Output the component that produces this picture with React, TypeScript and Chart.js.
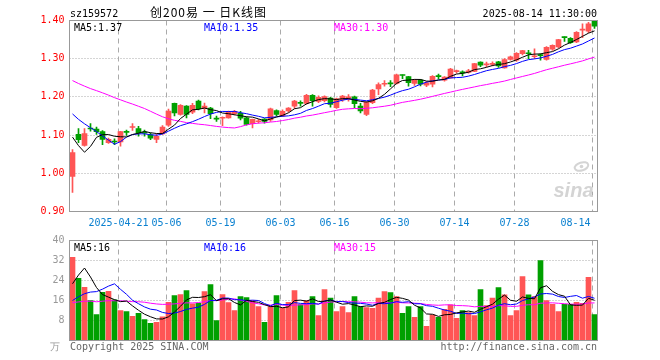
import React, { useEffect, useRef } from 'react';
import { Chart, registerables } from 'chart.js';

Chart.register(...registerables);

// ---------- data ----------
const dates = [
  '2025-04-09','2025-04-10','2025-04-11','2025-04-14','2025-04-15','2025-04-16','2025-04-17','2025-04-18',
  '2025-04-21','2025-04-22','2025-04-23','2025-04-24','2025-04-25','2025-04-28','2025-04-29','2025-04-30',
  '2025-05-06','2025-05-07','2025-05-08','2025-05-09','2025-05-12','2025-05-13','2025-05-14','2025-05-15','2025-05-16',
  '2025-05-19','2025-05-20','2025-05-21','2025-05-22','2025-05-23','2025-05-26','2025-05-27','2025-05-28','2025-05-29','2025-05-30',
  '2025-06-03','2025-06-04','2025-06-05','2025-06-06','2025-06-09','2025-06-10','2025-06-11','2025-06-12','2025-06-13',
  '2025-06-16','2025-06-17','2025-06-18','2025-06-19','2025-06-20','2025-06-23','2025-06-24','2025-06-25','2025-06-26','2025-06-27',
  '2025-06-30','2025-07-01','2025-07-02','2025-07-03','2025-07-04','2025-07-07','2025-07-08','2025-07-09','2025-07-10','2025-07-11',
  '2025-07-14','2025-07-15','2025-07-16','2025-07-17','2025-07-18','2025-07-21','2025-07-22','2025-07-23','2025-07-24','2025-07-25',
  '2025-07-28','2025-07-29','2025-07-30','2025-07-31','2025-08-01','2025-08-04','2025-08-05','2025-08-06','2025-08-07','2025-08-08',
  '2025-08-11','2025-08-12','2025-08-13','2025-08-14',
];

const opens = [
  0.992, 1.102, 1.073, 1.118, 1.116, 1.109, 1.080, 1.083, 1.082, 1.108,
  1.120, 1.117, 1.107, 1.101, 1.089, 1.103, 1.126, 1.183, 1.154, 1.176,
  1.160, 1.189, 1.169, 1.171, 1.144, 1.144, 1.145, 1.156, 1.157, 1.145,
  1.130, 1.135, 1.142, 1.140, 1.164, 1.150, 1.163, 1.176, 1.185, 1.183,
  1.204, 1.188, 1.190, 1.197, 1.172, 1.193, 1.196, 1.200, 1.176, 1.154,
  1.185, 1.221, 1.233, 1.236, 1.235, 1.258, 1.253, 1.235, 1.244, 1.231,
  1.233, 1.255, 1.244, 1.250, 1.266, 1.265, 1.264, 1.267, 1.291, 1.284,
  1.285, 1.292, 1.276, 1.298, 1.296, 1.313, 1.315, 1.305, 1.310, 1.298,
  1.325, 1.331, 1.357, 1.353, 1.344, 1.375, 1.372, 1.400,
];
const highs = [
  1.062, 1.117, 1.117, 1.130, 1.121, 1.112, 1.092, 1.090, 1.110, 1.113,
  1.130, 1.123, 1.113, 1.105, 1.103, 1.125, 1.168, 1.184, 1.180, 1.177,
  1.183, 1.192, 1.184, 1.173, 1.150, 1.148, 1.163, 1.165, 1.162, 1.148,
  1.142, 1.141, 1.143, 1.171, 1.166, 1.166, 1.172, 1.191, 1.190, 1.207,
  1.206, 1.203, 1.203, 1.199, 1.197, 1.204, 1.206, 1.202, 1.183, 1.188,
  1.220, 1.237, 1.243, 1.243, 1.260, 1.258, 1.254, 1.246, 1.246, 1.240,
  1.256, 1.260, 1.253, 1.275, 1.270, 1.268, 1.272, 1.288, 1.292, 1.291,
  1.292, 1.293, 1.300, 1.307, 1.316, 1.322, 1.322, 1.326, 1.313, 1.332,
  1.336, 1.351, 1.357, 1.355, 1.371, 1.391, 1.395, 1.401,
];
const lows = [
  0.950, 1.080, 1.071, 1.110, 1.102, 1.075, 1.078, 1.075, 1.071, 1.099,
  1.112, 1.097, 1.097, 1.088, 1.080, 1.102, 1.123, 1.150, 1.152, 1.145,
  1.156, 1.166, 1.158, 1.143, 1.136, 1.125, 1.144, 1.153, 1.140, 1.126,
  1.119, 1.131, 1.131, 1.136, 1.150, 1.148, 1.160, 1.170, 1.176, 1.181,
  1.176, 1.185, 1.187, 1.173, 1.170, 1.188, 1.189, 1.172, 1.158, 1.151,
  1.182, 1.206, 1.228, 1.227, 1.233, 1.248, 1.228, 1.230, 1.229, 1.227,
  1.226, 1.247, 1.241, 1.249, 1.262, 1.255, 1.262, 1.266, 1.279, 1.279,
  1.281, 1.277, 1.275, 1.296, 1.293, 1.310, 1.300, 1.300, 1.296, 1.296,
  1.322, 1.328, 1.345, 1.340, 1.342, 1.355, 1.368, 1.379,
];
const closes = [
  1.054, 1.088, 1.104, 1.116, 1.109, 1.089, 1.089, 1.082, 1.109, 1.107,
  1.121, 1.106, 1.105, 1.092, 1.097, 1.121, 1.163, 1.158, 1.178, 1.154,
  1.178, 1.169, 1.176, 1.156, 1.142, 1.146, 1.160, 1.162, 1.144, 1.128,
  1.141, 1.137, 1.136, 1.169, 1.154, 1.162, 1.171, 1.189, 1.183, 1.204,
  1.190, 1.199, 1.201, 1.180, 1.195, 1.202, 1.200, 1.182, 1.163, 1.186,
  1.218, 1.232, 1.235, 1.234, 1.258, 1.256, 1.237, 1.244, 1.233, 1.237,
  1.254, 1.253, 1.252, 1.273, 1.267, 1.263, 1.268, 1.287, 1.283, 1.286,
  1.287, 1.281, 1.298, 1.305, 1.314, 1.321, 1.313, 1.307, 1.308, 1.330,
  1.335, 1.350, 1.355, 1.342, 1.369, 1.377, 1.391, 1.385,
];
const volumes = [
  33.3, 24.9, 21.3, 16.0, 10.4, 19.3, 19.7, 16.3, 12.0, 11.6,
  9.7, 10.9, 8.4, 6.9, 7.3, 9.5, 15.3, 18.0, 18.4, 20.0,
  14.7, 14.9, 19.6, 22.4, 8.0, 18.4, 15.2, 12.0, 17.6, 17.2,
  16.0, 13.6, 7.3, 13.6, 18.0, 13.0, 15.3, 20.0, 14.4, 16.0,
  17.6, 10.0, 20.4, 17.0, 11.6, 13.6, 11.2, 17.6, 13.6, 13.2,
  12.9, 17.0, 19.6, 19.2, 17.6, 10.9, 13.6, 9.3, 13.6, 5.7,
  10.3, 9.3, 12.5, 14.3, 8.9, 12.0, 11.2, 10.0, 20.4, 14.0,
  17.0, 21.2, 18.3, 10.0, 12.0, 25.6, 18.3, 17.6, 32.0, 16.0,
  14.5, 11.6, 14.5, 14.5, 15.3, 14.9, 25.3, 10.4,
];
// sessions before the visible window (only feed the moving averages)
const priorCloses = [
  1.32, 1.31, 1.31, 1.27, 1.26, 1.27, 1.28, 1.28, 1.28, 1.28,
  1.28, 1.28, 1.31, 1.32, 1.33, 1.32, 1.28, 1.26, 1.25, 1.24,
  1.23, 1.22, 1.22, 1.21, 1.20, 1.20, 1.19, 1.04, 0.99,
];
const priorVolumes = [
  16, 13, 15, 18, 12, 14, 17, 13, 15, 16,
  12, 14, 19, 16, 15, 13, 14, 12, 14, 16,
  10, 9, 9.5, 8.5, 9.5, 7.5, 7.2, 34, 31.5,
];
const tickDates = ['2025-04-21','2025-05-06','2025-05-19','2025-06-03','2025-06-16','2025-06-30','2025-07-14','2025-07-28','2025-08-14'];
const tickLabels = ['2025-04-21','05-06','05-19','06-03','06-16','06-30','07-14','07-28','08-14'];
const priceTicks = [0.9, 1.0, 1.1, 1.2, 1.3, 1.4];
const volumeTicks = [0, 8, 16, 24, 32, 40];
const symbol = 'sz159572';
const title = '创200易 一 日K线图';
const stamp = '2025-08-14 11:30:00';

// ---------- styles ----------
const UP = '#ff5555';
const DOWN = '#00a000';
const MONO = "'DejaVu Sans Mono', monospace";
const CJK = "'Noto Sans CJK SC', sans-serif";
const GRID = '#aaaaaa';
const FRAME = '#999999';

function movingAvg(prior: number[], values: number[], n: number): number[] {
  const all = [...prior, ...values];
  return values.map((_, i) => {
    const end = prior.length + i;
    let s = 0;
    for (let j = end - n + 1; j <= end; j++) s += all[j];
    return s / n;
  });
}

const isUp = (i: number) => closes[i] >= opens[i];

function framePlugin(opts: { hLines: number[]; legend: { text: string; color: string }[]; extra?: (chart: any) => void }) {
  return {
    id: 'frame',
    beforeDatasetsDraw(chart: any) {
      const { ctx, chartArea: a, scales } = chart;
      ctx.save();
      ctx.lineWidth = 1;
      ctx.strokeStyle = GRID;
      ctx.setLineDash([1, 2]);
      opts.hLines.forEach((v) => {
        const y = Math.round(scales.y.getPixelForValue(v) - 0.5) + 0.5;
        ctx.beginPath();
        ctx.moveTo(a.left, y);
        ctx.lineTo(a.right, y);
        ctx.stroke();
      });
      ctx.setLineDash([5, 4]);
      tickDates.forEach((d) => {
        const idx = dates.indexOf(d);
        const x = Math.round(scales.x.getPixelForValue(idx) - 2.5) + 0.5;
        ctx.beginPath();
        ctx.moveTo(x, a.top);
        ctx.lineTo(x, a.bottom);
        ctx.stroke();
      });
      ctx.restore();
    },
    afterDraw(chart: any) {
      const { ctx, chartArea: a } = chart;
      ctx.save();
      ctx.strokeStyle = FRAME;
      ctx.lineWidth = 1;
      ctx.setLineDash([]);
      const l = Math.floor(a.left) + 0.5;
      const r = Math.floor(a.right) + 0.5;
      ctx.strokeRect(l, a.top, r - l, a.bottom - a.top);
      ctx.font = `10px ${MONO}`;
      ctx.textBaseline = 'alphabetic';
      ctx.textAlign = 'left';
      opts.legend.forEach((it, i) => {
        ctx.fillStyle = it.color;
        ctx.fillText(it.text, 74 + i * 130, a.top + 10);
      });
      if (opts.extra) opts.extra(chart);
      ctx.restore();
    },
  };
}

export default function App() {
  const priceRef = useRef<HTMLCanvasElement>(null);
  const volRef = useRef<HTMLCanvasElement>(null);

  useEffect(() => {
    const ma5 = movingAvg(priorCloses, closes, 5);
    const ma10 = movingAvg(priorCloses, closes, 10);
    const ma30 = movingAvg(priorCloses, closes, 30);
    const vma5 = movingAvg(priorVolumes, volumes, 5);
    const vma10 = movingAvg(priorVolumes, volumes, 10);
    const vma30 = movingAvg(priorVolumes, volumes, 30);
    const last = (arr: number[]) => arr[arr.length - 1];
    const colors = dates.map((_, i) => (isUp(i) ? UP : DOWN));

    const lineDs = (data: number[], color: string) => ({
      type: 'line' as const,
      data,
      borderColor: color,
      borderWidth: 1,
      pointRadius: 0,
      tension: 0,
      order: 0,
    });

    const priceChart = new Chart(priceRef.current!, {
      type: 'bar',
      data: {
        labels: dates,
        datasets: [
          {
            type: 'bar',
            data: lows.map((l, i) => [l, highs[i]]) as any,
            backgroundColor: colors,
            barThickness: 1,
            grouped: false,
            order: 2,
          } as any,
          {
            type: 'bar',
            data: opens.map((o, i) => [Math.min(o, closes[i]), Math.max(o, closes[i])]) as any,
            backgroundColor: colors,
            barThickness: 5,
            minBarLength: 1,
            grouped: false,
            order: 1,
          } as any,
          lineDs(ma5, '#000000'),
          lineDs(ma10, '#0000ff'),
          lineDs(ma30, '#ff00ff'),
        ],
      },
      options: {
        responsive: false,
        devicePixelRatio: 1,
        animation: false,
        layout: { padding: { left: 0, right: 62.5, top: 20.5, bottom: 16.5 } },
        plugins: { legend: { display: false }, tooltip: { enabled: false } },
        events: [],
        scales: {
          x: { type: 'category', offset: true, display: false },
          y: {
            type: 'linear',
            min: priceTicks[0],
            max: priceTicks[priceTicks.length - 1],
            afterFit: (s: any) => { s.width = 69.5; },
            afterBuildTicks: (s: any) => { s.ticks = priceTicks.map((v) => ({ value: v })); },
            grid: { display: false, drawTicks: false },
            border: { display: false },
            ticks: {
              color: '#ff0000',
              padding: 5,
              font: { family: MONO, size: 10 },
              callback: (v: any) => Number(v).toFixed(2),
            },
          },
        },
      },
      plugins: [
        framePlugin({
          hLines: priceTicks.slice(1, -1),
          legend: [
            { text: `MA5:${last(ma5).toFixed(2)}`, color: '#000000' },
            { text: `MA10:${last(ma10).toFixed(2)}`, color: '#0000ff' },
            { text: `MA30:${last(ma30).toFixed(2)}`, color: '#ff00ff' },
          ],
          extra: (chart: any) => {
            const { ctx, chartArea: a, scales } = chart;
            // header
            ctx.fillStyle = '#000';
            ctx.font = `10px ${MONO}`;
            ctx.textAlign = 'left';
            ctx.fillText(symbol, 70, 17);
            ctx.textAlign = 'right';
            ctx.fillText(stamp, 597, 17);
            ctx.font = `12px ${CJK}`;
            ctx.textAlign = 'left';
            (ctx as any).letterSpacing = '1px';
            ctx.fillText(title, 150, 17);
            (ctx as any).letterSpacing = '0px';
            // date labels
            ctx.font = `10px ${MONO}`;
            ctx.fillStyle = '#0a80d0';
            ctx.textAlign = 'center';
            tickDates.forEach((d, i) => {
              const idx = dates.indexOf(d);
              const w = ctx.measureText(tickLabels[i]).width;
              let x = scales.x.getPixelForValue(idx) - 2;
              if (x + w / 2 > a.right - 7) x = a.right - 7 - w / 2;
              ctx.fillText(tickLabels[i], x, a.bottom + 14);
            });
            // watermark
            ctx.fillStyle = '#d4d4d4';
            ctx.strokeStyle = '#d4d4d4';
            ctx.font = `italic bold 20px 'Liberation Sans', sans-serif`;
            ctx.textAlign = 'right';
            ctx.fillText('sina', a.right - 4, a.bottom - 15);
            ctx.lineWidth = 2;
            ctx.beginPath();
            ctx.ellipse(a.right - 16, a.bottom - 45, 7, 4, -0.3, 0, Math.PI * 2);
            ctx.stroke();
            ctx.beginPath();
            ctx.arc(a.right - 16, a.bottom - 45, 1.8, 0, Math.PI * 2);
            ctx.fill();
          },
        }) as any,
      ],
    });

    const volChart = new Chart(volRef.current!, {
      type: 'bar',
      data: {
        labels: dates,
        datasets: [
          {
            type: 'bar',
            data: volumes,
            backgroundColor: colors,
            barThickness: 5,
            grouped: false,
            order: 1,
          } as any,
          lineDs(vma5, '#000000'),
          lineDs(vma10, '#0000ff'),
          lineDs(vma30, '#ff00ff'),
        ],
      },
      options: {
        responsive: false,
        devicePixelRatio: 1,
        animation: false,
        layout: { padding: { left: 0, right: 62.5, top: 12.5, bottom: 19.5 } },
        plugins: { legend: { display: false }, tooltip: { enabled: false } },
        events: [],
        scales: {
          x: { type: 'category', offset: true, display: false },
          y: {
            type: 'linear',
            min: volumeTicks[0],
            max: volumeTicks[volumeTicks.length - 1],
            afterFit: (s: any) => { s.width = 69.5; },
            afterBuildTicks: (s: any) => { s.ticks = volumeTicks.map((v) => ({ value: v })); },
            grid: { display: false, drawTicks: false },
            border: { display: false },
            ticks: {
              color: '#999999',
              padding: 5,
              font: { family: MONO, size: 10 },
              callback: (v: any) => (Number(v) === 0 ? '' : String(v)),
            },
          },
        },
      },
      plugins: [
        framePlugin({
          hLines: volumeTicks.slice(1, -1),
          legend: [
            { text: `MA5:${Math.floor(last(vma5))}`, color: '#000000' },
            { text: `MA10:${Math.floor(last(vma10))}`, color: '#0000ff' },
            { text: `MA30:${Math.floor(last(vma30))}`, color: '#ff00ff' },
          ],
          extra: (chart: any) => {
            const { ctx, chartArea: a } = chart;
            ctx.font = `10px ${MONO}`;
            ctx.fillStyle = '#999999';
            ctx.textAlign = 'right';
            ctx.fillText('万', 60, a.bottom + 9);
            ctx.fillStyle = '#666666';
            ctx.textAlign = 'left';
            ctx.fillText('Copyright 2025 SINA.COM', 70, a.bottom + 9);
            ctx.textAlign = 'right';
            ctx.fillText('http://finance.sina.com.cn', 597, a.bottom + 9);
          },
        }) as any,
      ],
    });

    return () => {
      priceChart.destroy();
      volChart.destroy();
    };
  }, []);

  return (
    <div style={{ position: 'fixed', left: 0, top: 0, width: 660, height: 360, background: '#ffffff' }}>
      <canvas ref={priceRef} width={660} height={228} style={{ position: 'absolute', left: 0, top: 0 }} />
      <canvas ref={volRef} width={660} height={132} style={{ position: 'absolute', left: 0, top: 228 }} />
    </div>
  );
}
